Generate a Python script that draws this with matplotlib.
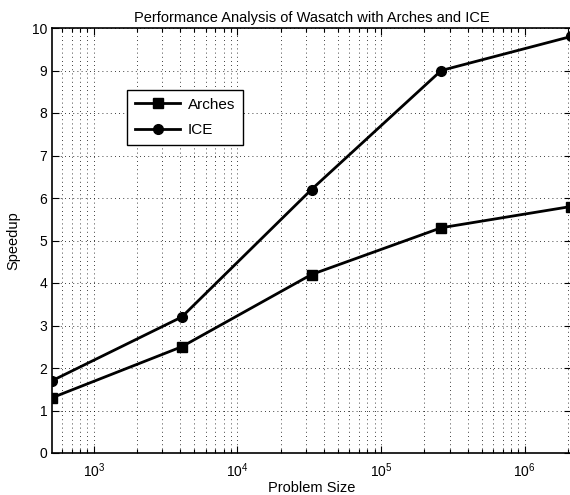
import matplotlib
matplotlib.use("Agg")
import matplotlib.pyplot as plt
from matplotlib.ticker import LogLocator, NullFormatter, MultipleLocator

plt.rcParams['font.family'] = ['Liberation Sans', 'DejaVu Sans']

problem_size = [512, 4096, 32768, 262144, 2097152]
arches = [1.3, 2.5, 4.2, 5.3, 5.8]
ice = [1.7, 3.2, 6.2, 9.0, 9.8]

W, H = 570, 495
fig = plt.figure(figsize=(W / 100, H / 100), dpi=100)
left, right, top, bottom = 52, 571, 28, 453
ax = fig.add_axes([left / W, 1 - bottom / H, (right - left) / W, (bottom - top) / H])

ax.plot(problem_size, arches, color='black', lw=2.0, marker='s', ms=6.5, label='Arches')
ax.plot(problem_size, ice, color='black', lw=2.0, marker='o', ms=7.0, label='ICE')

ax.set_xscale('log')
ax.set_xlim(512, 2097152)
ax.set_ylim(0, 10)
ax.yaxis.set_major_locator(MultipleLocator(1))
ax.xaxis.set_major_locator(LogLocator(base=10, numticks=20))
ax.xaxis.set_minor_locator(LogLocator(base=10, subs=range(2, 10), numticks=100))
ax.xaxis.set_minor_formatter(NullFormatter())

ax.grid(True, which='major', axis='both', linestyle=(0, (1, 4)), color='black', lw=0.6)
ax.grid(True, which='minor', axis='x', linestyle=(0, (1, 4)), color='black', lw=0.6)

ax.tick_params(which='both', direction='in', top=True, right=True, labelsize=10, width=0.8, colors='black')
ax.tick_params(which='major', length=5)
ax.tick_params(which='minor', length=3)
ax.tick_params(axis='x', which='major', pad=6)
for s in ax.spines.values():
    s.set_linewidth(1.2)

ax.set_title('Performance Analysis of Wasatch with Arches and ICE', fontsize=10.5, pad=4)
ax.set_xlabel('Problem Size', fontsize=10.5, labelpad=1)
ax.set_ylabel('Speedup', fontsize=10.5, labelpad=8)

leg = ax.legend(loc='upper left', bbox_to_anchor=((127 - left) / (right - left), 1 - (90 - top) / (bottom - top)),
                fontsize=11, frameon=True, fancybox=False, edgecolor='black', framealpha=1,
                handlelength=3.0, handletextpad=0.5, borderpad=0.5, labelspacing=0.75, borderaxespad=0)
leg.get_frame().set_linewidth(1.0)

fig.savefig('out.png', dpi=100)
